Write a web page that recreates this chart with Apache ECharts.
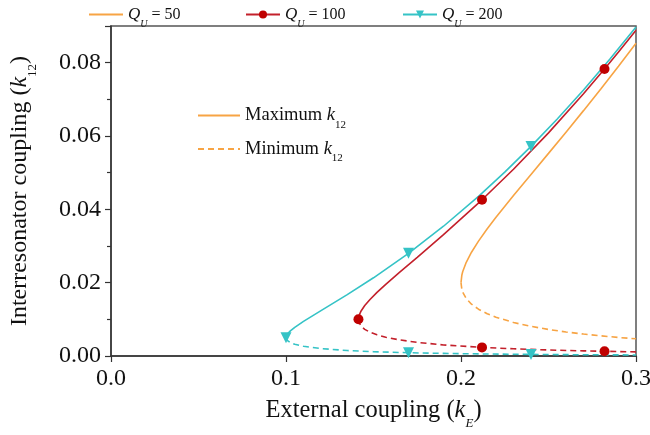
<!DOCTYPE html>
<html>
<head>
<meta charset="utf-8">
<script src="https://cdn.jsdelivr.net/npm/echarts@6/dist/echarts.min.js"></script>
<style>
  html, body { margin: 0; padding: 0; background: #fff; }
  #chart { width: 650px; height: 435px; }
</style>
</head>
<body>
<div id="chart"></div>
<script>
// Interresonator coupling k12 versus external coupling kE, for three unloaded Q values.
// Each curve has an upper (maximum k12) and a lower (minimum k12) branch, [kE, k12] pairs.
const q50Max = [[0.30,0.08531],[0.29,0.07904],[0.28,0.07291],[0.27,0.06692],[0.26,0.06105],[0.25,0.05526],[0.24,0.04952],[0.23,0.04376],[0.22,0.03783],[0.215,0.03470],[0.21,0.03133],[0.206,0.02830],[0.203,0.02556],[0.201,0.02304],[0.2005,0.02211],[0.2,0.0200]];
const q50Min = [[0.2,0.0200],[0.2005,0.01810],[0.201,0.01736],[0.203,0.01565],[0.206,0.01413],[0.21,0.01277],[0.215,0.01153],[0.22,0.01058],[0.23,0.00914],[0.24,0.00808],[0.25,0.00724],[0.26,0.00655],[0.27,0.00598],[0.28,0.00549],[0.29,0.00506],[0.30,0.00469]];

const q100Max = [[0.30,0.08887],[0.29,0.08289],[0.282,0.07825],[0.27,0.07150],[0.25,0.06086],[0.23,0.05094],[0.212,0.04260],[0.19,0.03308],[0.175,0.02691],[0.165,0.02285],[0.157,0.01953],[0.152,0.01734],[0.148,0.01542],[0.145,0.01376],[0.143,0.01236],[0.142,0.01137],[0.1417,0.01093],[0.1414,0.0100]];
const q100Min = [[0.1414,0.0100],[0.1417,0.00915],[0.142,0.00880],[0.143,0.00809],[0.145,0.00727],[0.148,0.00649],[0.152,0.00577],[0.157,0.00512],[0.165,0.00438],[0.175,0.00372],[0.19,0.00302],[0.212,0.00235],[0.23,0.00196],[0.25,0.00164],[0.27,0.00140],[0.282,0.00128],[0.29,0.00121],[0.30,0.00112]];

const q200Max = [[0.30,0.08972],[0.285,0.08092],[0.27,0.07256],[0.255,0.06464],[0.24,0.05716],[0.225,0.05013],[0.21,0.04353],[0.19,0.03539],[0.17,0.02801],[0.15,0.02133],[0.135,0.01673],[0.12,0.01238],[0.11,0.00946],[0.105,0.00783],[0.1025,0.00686],[0.101,0.00611],[0.1005,0.00576],[0.1,0.0050]];
const q200Min = [[0.1,0.0050],[0.1005,0.00434],[0.101,0.00409],[0.1025,0.00364],[0.105,0.00319],[0.11,0.00264],[0.12,0.00202],[0.135,0.00149],[0.15,0.00117],[0.17,0.00089],[0.19,0.00071],[0.21,0.00057],[0.24,0.00044],[0.27,0.00034],[0.30,0.00028]];

// kE positions that carry a marker symbol
const q100MaxMarks = [0.1414, 0.212, 0.282];
const q100MinMarks = [0.212, 0.282];
const q200MaxMarks = [0.1, 0.17, 0.24];
const q200MinMarks = [0.17, 0.24];

const qLabels = ['50', '100', '200'];
const xTicks = [0.0, 0.1, 0.2, 0.3];
const yTicks = [0.00, 0.02, 0.04, 0.06, 0.08];

const ORANGE = '#F7A444';
const RED = '#C3202B';
const CYAN = '#35C3C6';
const SERIF = '"Liberation Serif", "Times New Roman", serif';
const TRI_DOWN = 'path://M0,0 L10,0 L5,9 Z';

function withMarks(points, marks) {
  return points.map(p => marks.includes(p[0]) ? { value: p } : { value: p, symbol: 'none' });
}

function qName(v) { return 'Q_U = ' + v; }

function branch(name, data, color, dashed, symbol, size) {
  return {
    name: name,
    type: 'line',
    data: data,
    color: color,
    symbol: symbol || 'none',
    symbolSize: size || 0,
    showSymbol: !!symbol,
    showAllSymbol: true,
    smooth: false,
    clip: true,
    lineStyle: { width: 1.6, color: color, type: dashed ? [6, 4] : 'solid' },
    itemStyle: { color: symbol === 'circle' ? '#C00000' : color },
    emphasis: { disabled: true },
    animation: false,
    z: 3
  };
}

const plain = pts => pts.map(p => ({ value: p }));

const series = [
  branch(qName(qLabels[0]), plain(q50Max), ORANGE, false),
  branch(qName(qLabels[0]), plain(q50Min), ORANGE, true),
  branch(qName(qLabels[1]), withMarks(q100Max, q100MaxMarks), RED, false, 'circle', 10),
  branch(qName(qLabels[1]), withMarks(q100Min, q100MinMarks), RED, true, 'circle', 10),
  branch(qName(qLabels[2]), withMarks(q200Max, q200MaxMarks), CYAN, false, TRI_DOWN, 11),
  branch(qName(qLabels[2]), withMarks(q200Min, q200MinMarks), CYAN, true, TRI_DOWN, 11),
  // line-style key entries
  { name: 'max', type: 'line', data: [], color: ORANGE, symbol: 'none', lineStyle: { width: 1.6, color: ORANGE, type: 'solid' } },
  { name: 'min', type: 'line', data: [], color: ORANGE, symbol: 'none', lineStyle: { width: 1.6, color: ORANGE, type: [6, 4] } }
];

const qRich = {
  q: { fontFamily: SERIF, fontStyle: 'italic', fontSize: 17, color: '#111', lineHeight: 20 },
  u: { fontFamily: SERIF, fontStyle: 'italic', fontSize: 10, color: '#111', lineHeight: 10, verticalAlign: 'bottom', padding: [0, 0, -5, 0] },
  t: { fontFamily: SERIF, fontSize: 16, color: '#111', lineHeight: 20 }
};

function qLegend(idx, left) {
  const lg = {
    data: [qName(qLabels[idx])],
    left: left,
    top: 1,
    itemWidth: 34,
    itemHeight: 10,
    itemGap: 0,
    formatter: () => '{q|Q}{u|U}{t| = ' + qLabels[idx] + '}',
    textStyle: { rich: qRich },
    selectedMode: false
  };
  if (idx === 0) lg.itemStyle = { color: 'transparent', borderWidth: 0 };
  return lg;
}

const kRich = {
  n: { fontFamily: SERIF, fontSize: 18.5, color: '#111', lineHeight: 20 },
  k: { fontFamily: SERIF, fontStyle: 'italic', fontSize: 18.5, color: '#111', lineHeight: 20 },
  s: { fontFamily: SERIF, fontSize: 11, color: '#111', lineHeight: 10, verticalAlign: 'bottom', padding: [0, 0, -5, 0] }
};

const chart = echarts.init(document.getElementById('chart'), null, { renderer: 'canvas' });
chart.setOption({
  animation: false,
  backgroundColor: '#fff',
  grid: {
    left: 111, right: 14, top: 26, bottom: 79,
    outerBoundsMode: 'none',
    containLabel: false,
    show: true, borderColor: '#555', borderWidth: 1.5, backgroundColor: 'transparent'
  },
  legend: [
    qLegend(0, 83),
    qLegend(1, 240),
    qLegend(2, 397),
    {
      data: ['max', 'min'],
      orient: 'vertical',
      left: 192,
      top: 101,
      itemGap: 9,
      itemWidth: 42,
      itemHeight: 10,
      selectedMode: false,
      itemStyle: { color: 'transparent', borderWidth: 0 },
      formatter: n => n === 'max' ? '{n|Maximum }{k|k}{s|12}' : '{n|Minimum }{k|k}{s|12}',
      textStyle: { rich: kRich }
    }
  ],
  xAxis: {
    type: 'value',
    min: xTicks[0],
    max: xTicks[xTicks.length - 1],
    interval: 0.1,
    name: '{t|External coupling (}{k|k}{s|E}{t|)}',
    nameLocation: 'middle',
    nameGap: 42,
    nameTextStyle: {
      rich: {
        t: { fontFamily: SERIF, fontSize: 24.5, color: '#111', lineHeight: 26 },
        k: { fontFamily: SERIF, fontStyle: 'italic', fontSize: 24.5, color: '#111', lineHeight: 26 },
        s: { fontFamily: SERIF, fontStyle: 'italic', fontSize: 13, color: '#111', lineHeight: 12, verticalAlign: 'bottom', padding: [0, 0, -6, 0] }
      }
    },
    axisLine: { show: true, onZero: false, lineStyle: { color: '#333', width: 1.5 } },
    axisTick: { show: true, inside: false, length: 6, lineStyle: { color: '#333', width: 1.2 } },
    minorTick: { show: false },
    splitLine: { show: false },
    axisLabel: {
      fontFamily: SERIF, fontSize: 24, color: '#111', margin: 11,
      formatter: v => v.toFixed(1)
    }
  },
  yAxis: {
    type: 'value',
    min: yTicks[0],
    max: 0.09,
    interval: 0.02,
    name: '{t|Interresonator coupling (}{k|k}{s|12}{t|)}',
    nameLocation: 'middle',
    nameGap: 78,
    nameTextStyle: {
      rich: {
        t: { fontFamily: SERIF, fontSize: 24, color: '#111', lineHeight: 26 },
        k: { fontFamily: SERIF, fontStyle: 'italic', fontSize: 24, color: '#111', lineHeight: 26 },
        s: { fontFamily: SERIF, fontSize: 13, color: '#111', lineHeight: 12, verticalAlign: 'bottom', padding: [0, 0, -6, 0] }
      }
    },
    axisLine: { show: true, onZero: false, lineStyle: { color: '#333', width: 1.5 } },
    axisTick: { show: true, inside: false, length: 6, lineStyle: { color: '#333', width: 1.2 } },
    minorTick: { show: true, splitNumber: 2, length: 4, lineStyle: { color: '#333', width: 1.2 } },
    splitLine: { show: false },
    axisLabel: {
      fontFamily: SERIF, fontSize: 24, color: '#111', margin: 10,
      formatter: v => (yTicks.some(t => Math.abs(t - v) < 1e-9) ? v.toFixed(2) : '')
    }
  },
  series: series
});
</script>
</body>
</html>
